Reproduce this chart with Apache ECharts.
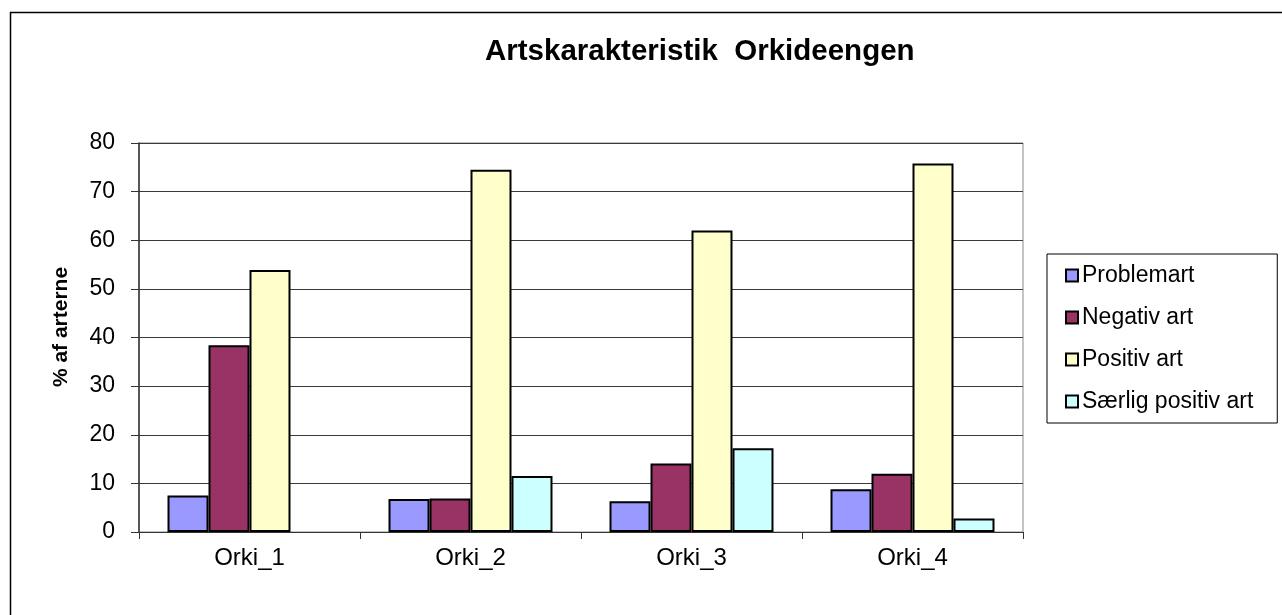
<!DOCTYPE html>
<html>
<head>
<meta charset="utf-8">
<script src="https://cdn.jsdelivr.net/npm/echarts@6/dist/echarts.min.js"></script>
<style>
html,body{margin:0;padding:0;background:#fff;}
#chart{width:1282px;height:615px;}
</style>
</head>
<body>
<div id="chart"></div>
<script>
const categories = ['Orki_1', 'Orki_2', 'Orki_3', 'Orki_4'];
const seriesNames = ['Problemart', 'Negativ art', 'Positiv art', 'Særlig positiv art'];
const problemart = [7.5, 6.8, 6.3, 8.8];
const negativArt = [38.4, 6.9, 14.1, 12.0];
const positivArt = [53.9, 74.5, 62.0, 75.8];
const saerligPositivArt = [null, 11.5, 17.2, 2.8];
const yTicks = [0, 10, 20, 30, 40, 50, 60, 70, 80];
const titleText = 'Artskarakteristik  Orkideengen';
const yAxisTitle = '% af arterne';

const colors = ['#9999FF', '#993366', '#FFFFCC', '#CCFFFF'];
const values = [problemart, negativArt, positivArt, saerligPositivArt];
const FONT = 'Liberation Sans, Arial, sans-serif';

const chart = echarts.init(document.getElementById('chart'));
chart.setOption({
  animation: false,
  backgroundColor: '#fff',
  title: {
    text: titleText,
    left: 485, top: 37,
    padding: 0,
    textStyle: {fontFamily: FONT, fontSize: 29.5, fontWeight: 'bold', color: '#000'}
  },
  graphic: [
    {type: 'rect', shape: {x: 10.5, y: 12.5, width: 1400, height: 800}, style: {fill: null, stroke: '#000', lineWidth: 1.5}, silent: true, z: 0},
    {type: 'text', x: 61, y: 327, rotation: Math.PI / 2,
     style: {text: yAxisTitle, fontFamily: FONT, fontSize: 21, fontWeight: 'bold', fill: '#000', textAlign: 'center', textVerticalAlign: 'middle'}}
  ],
  legend: {
    orient: 'vertical',
    left: 1047, top: 254,
    padding: [10, 24, 10, 18],
    itemGap: 19,
    itemWidth: 12, itemHeight: 12,
    borderColor: '#000', borderWidth: 1,
    icon: 'rect',
    data: seriesNames,
    textStyle: {fontFamily: FONT, fontSize: 23, color: '#000', padding: [0, 0, 0, -1]}
  },
  grid: {left: 139, top: 143, right: 259, bottom: 83, show: true, borderColor: '#888', borderWidth: 1},
  xAxis: {
    type: 'category',
    data: categories,
    axisLine: {lineStyle: {color: '#333', width: 1}},
    axisTick: {show: true, length: 7, lineStyle: {color: '#333'}},
    axisLabel: {fontFamily: FONT, fontSize: 24, color: '#000', margin: 14}
  },
  yAxis: {
    type: 'value',
    min: yTicks[0], max: yTicks[yTicks.length - 1], interval: 10,
    axisLine: {show: true, lineStyle: {color: '#333', width: 1.5}},
    axisTick: {show: true, length: 8, lineStyle: {color: '#333'}},
    axisLabel: {fontFamily: FONT, fontSize: 23, color: '#000', margin: 24},
    splitLine: {lineStyle: {color: '#3a3a3a', width: 1}}
  },
  series: seriesNames.map((name, i) => ({
    name: name,
    type: 'bar',
    data: values[i],
    barGap: '0%',
    barCategoryGap: '25.8%',
    itemStyle: {color: colors[i], borderColor: '#000', borderWidth: 2}
  }))
});
</script>
</body>
</html>
